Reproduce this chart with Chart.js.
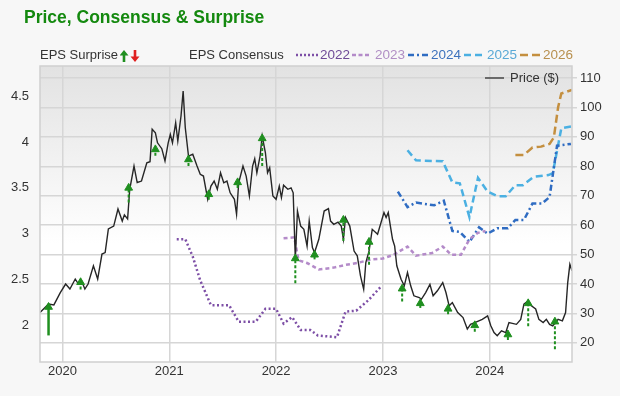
<!DOCTYPE html>
<html>
<head>
<meta charset="utf-8">
<script src="https://cdn.jsdelivr.net/npm/chart.js@4.4.1/dist/chart.umd.min.js"></script>
<style>
  body { margin: 0; background: #f7f7f7; font-family: "Liberation Sans", Arial, sans-serif; }
  #wrap { position: relative; width: 620px; height: 396px; }
  #chart { position: absolute; left: 0; top: 0; }
  #title { position: absolute; left: 24px; top: 7px; font-size: 17.5px; font-weight: bold; color: #14890f; }
  .lg { position: absolute; font-size: 13px; color: #333; white-space: nowrap; line-height: 16px; }
  .yr { font-size: 13.5px; }
</style>
</head>
<body>
<div id="wrap">
  <canvas id="chart" width="620" height="396"></canvas>
  <div id="title">Price, Consensus &amp; Surprise</div>

  <div class="lg" style="left:40px; top:47px;">EPS Surprise</div>
  <svg style="position:absolute; left:120px; top:49px;" width="22" height="14">
    <polygon points="4,1 8.5,6.5 5.3,6.5 5.3,13 2.7,13 2.7,6.5 -0.5,6.5" fill="#1f8f1f"/>
    <polygon points="15,13 19.5,7.5 16.3,7.5 16.3,1 13.7,1 13.7,7.5 10.5,7.5" fill="#e02020"/>
  </svg>

  <div class="lg" style="left:189px; top:47px;">EPS Consensus</div>
  <svg style="position:absolute; left:296px; top:52px;" width="24" height="6">
    <line x1="0" y1="3" x2="23" y2="3" stroke="#7d4fa6" stroke-width="2.5" stroke-dasharray="2,2"/>
  </svg>
  <div class="lg yr" style="left:320px; top:47px; color:#6f4b97;">2022</div>
  <svg style="position:absolute; left:352px; top:52px;" width="20" height="6">
    <line x1="0" y1="3" x2="18" y2="3" stroke="#b48bc9" stroke-width="2.5" stroke-dasharray="4,2.5"/>
  </svg>
  <div class="lg yr" style="left:375px; top:47px; color:#b08ec4;">2023</div>
  <svg style="position:absolute; left:408px; top:52px;" width="22" height="6">
    <line x1="0" y1="3" x2="20" y2="3" stroke="#2f6cc2" stroke-width="2.5" stroke-dasharray="6,3,2,3"/>
  </svg>
  <div class="lg yr" style="left:431px; top:47px; color:#3d72bd;">2024</div>
  <svg style="position:absolute; left:464px; top:52px;" width="22" height="6">
    <line x1="0" y1="3" x2="20" y2="3" stroke="#4bb0e2" stroke-width="2.5" stroke-dasharray="7,4"/>
  </svg>
  <div class="lg yr" style="left:487px; top:47px; color:#5aa9d6;">2025</div>
  <svg style="position:absolute; left:520px; top:52px;" width="22" height="6">
    <line x1="0" y1="3" x2="20" y2="3" stroke="#c48f3f" stroke-width="2.5" stroke-dasharray="8,4"/>
  </svg>
  <div class="lg yr" style="left:543px; top:47px; color:#b8904f;">2026</div>

  <svg style="position:absolute; left:485px; top:75px;" width="20" height="6">
    <line x1="0" y1="3" x2="19" y2="3" stroke="#444" stroke-width="1.5"/>
  </svg>
  <div class="lg" style="left:510px; top:70px;">Price ($)</div>
</div>

<script>
// price, decimal years
const priceDates = [2019.79, 2019.87, 2019.92, 2019.98, 2020.03, 2020.07, 2020.12, 2020.15, 2020.18, 2020.21,
  2020.24, 2020.29, 2020.33, 2020.37, 2020.40, 2020.43, 2020.48, 2020.52, 2020.56, 2020.58,
  2020.61, 2020.63, 2020.67, 2020.70, 2020.74, 2020.79, 2020.82, 2020.84, 2020.87, 2020.89,
  2020.93, 2020.96, 2020.99, 2021.01, 2021.03, 2021.06, 2021.08, 2021.11, 2021.13, 2021.15,
  2021.18, 2021.22, 2021.26, 2021.29, 2021.32, 2021.36, 2021.39, 2021.42, 2021.45, 2021.48,
  2021.51, 2021.54, 2021.57, 2021.61, 2021.63, 2021.65, 2021.69, 2021.72, 2021.75, 2021.78,
  2021.80, 2021.82, 2021.85, 2021.87, 2021.90, 2021.92, 2021.94, 2021.97, 2022.00, 2022.03,
  2022.05, 2022.07, 2022.11, 2022.14, 2022.16, 2022.18, 2022.20, 2022.23, 2022.26, 2022.29,
  2022.31, 2022.34, 2022.36, 2022.40, 2022.45, 2022.49, 2022.51, 2022.54, 2022.58, 2022.61,
  2022.63, 2022.65, 2022.69, 2022.73, 2022.76, 2022.79, 2022.82, 2022.84, 2022.87, 2022.90,
  2022.95, 2023.01, 2023.03, 2023.05, 2023.07, 2023.09, 2023.11, 2023.13, 2023.17, 2023.20,
  2023.23, 2023.26, 2023.29, 2023.34, 2023.36, 2023.40, 2023.44, 2023.47, 2023.51, 2023.56,
  2023.59, 2023.62, 2023.65, 2023.70, 2023.75, 2023.79, 2023.82, 2023.86, 2023.93, 2023.98,
  2024.01, 2024.04, 2024.07, 2024.11, 2024.15, 2024.18, 2024.25, 2024.29, 2024.32, 2024.36,
  2024.39, 2024.43, 2024.46, 2024.50, 2024.53, 2024.56, 2024.59, 2024.64, 2024.68, 2024.71,
  2024.73, 2024.75, 2024.77];
const priceValues = [30.3, 33.2, 32.9, 37.1, 40.0, 38.3, 41.7, 40.0, 41.0, 38.3,
  40.0, 46.2, 41.7, 50.2, 50.7, 58.7, 59.7, 65.5, 61.4, 63.5,
  62.1, 72.2, 80.1, 74.5, 75.0, 81.2, 81.6, 92.6, 91.4, 88.0,
  86.0, 81.8, 88.0, 90.9, 88.0, 94.8, 88.6, 97.1, 105.6, 93.1,
  83.5, 84.1, 80.1, 77.3, 76.7, 68.8, 73.3, 75.0, 72.2, 77.8,
  74.4, 75.0, 71.0, 68.8, 63.7, 74.4, 80.1, 76.7, 69.9, 80.1,
  82.6, 77.8, 83.5, 90.3, 84.6, 77.8, 79.5, 69.9, 68.8, 73.3,
  69.4, 73.6, 72.2, 72.7, 71.0, 48.5, 64.8, 59.7, 58.6, 52.9,
  61.4, 52.4, 50.7, 55.2, 64.8, 65.6, 61.4, 60.3, 61.0, 59.7,
  55.2, 62.6, 59.7, 51.2, 49.6, 42.8, 38.2, 47.3, 51.2, 58.6,
  56.9, 64.3, 62.6, 64.3, 59.7, 55.2, 52.9, 46.2, 41.6, 39.4,
  43.9, 39.4, 36.0, 35.4, 34.8, 37.1, 39.9, 36.0, 37.7, 40.5,
  37.1, 32.6, 33.7, 30.3, 28.6, 24.7, 26.3, 26.9, 28.0, 29.2,
  25.8, 23.5, 22.4, 24.1, 23.5, 26.9, 26.3, 28.0, 33.2, 34.3,
  32.6, 31.5, 28.0, 26.9, 28.0, 26.3, 25.8, 28.0, 27.5, 30.3,
  40.5, 46.7, 44.5];

// EPS surprise arrows (from consensus to actual)
const surpriseDates = [2019.87, 2020.17, 2020.62, 2020.87, 2021.18, 2021.37, 2021.64, 2021.87, 2022.18, 2022.36,
  2022.63, 2022.87, 2023.18, 2023.35, 2023.61, 2023.86, 2024.17, 2024.36, 2024.61];
const surpriseFrom = [1.89, 2.39, 3.34, 3.85, 3.74, 3.37, 3.50, 3.74, 2.46, 2.72,
  2.92, 2.66, 2.26, 2.19, 2.12, 1.93, 1.84, 1.99, 1.74];
const surpriseTo = [2.20, 2.47, 3.50, 3.92, 3.81, 3.43, 3.56, 4.04, 2.73, 2.77,
  3.15, 2.91, 2.40, 2.24, 2.18, 2.00, 1.90, 2.24, 2.04];

// EPS consensus per fiscal year
const cons2022Dates = [2021.07, 2021.15, 2021.22, 2021.29, 2021.39, 2021.56, 2021.65, 2021.81, 2021.90, 2022.00,
  2022.07, 2022.15, 2022.23, 2022.32, 2022.39, 2022.57, 2022.65, 2022.75, 2022.86, 2022.98];
const cons2022Values = [2.94, 2.94, 2.75, 2.49, 2.22, 2.22, 2.04, 2.04, 2.18, 2.18,
  2.02, 2.09, 1.95, 1.95, 1.89, 1.87, 2.15, 2.16, 2.27, 2.42];
const cons2023Dates = [2022.07, 2022.17, 2022.21, 2022.29, 2022.40, 2022.54, 2022.65, 2022.76, 2022.89, 2023.00,
  2023.10, 2023.23, 2023.31, 2023.46, 2023.56, 2023.64, 2023.73, 2023.81, 2023.89, 2023.96];
const cons2023Values = [2.95, 2.96, 2.71, 2.68, 2.61, 2.63, 2.66, 2.68, 2.72, 2.73,
  2.77, 2.86, 2.76, 2.79, 2.86, 2.77, 2.77, 2.94, 3.01, 3.03];
const cons2024Dates = [2023.14, 2023.23, 2023.31, 2023.48, 2023.57, 2023.65, 2023.72, 2023.81, 2023.90, 2023.98,
  2024.07, 2024.17, 2024.24, 2024.32, 2024.40, 2024.49, 2024.56, 2024.63, 2024.76];
const cons2024Values = [3.46, 3.29, 3.34, 3.31, 3.36, 3.03, 3.02, 2.91, 3.07, 3.00,
  3.06, 3.06, 3.15, 3.15, 3.33, 3.33, 3.40, 3.96, 3.98];
const cons2025Dates = [2023.23, 2023.31, 2023.56, 2023.65, 2023.72, 2023.81, 2023.89, 2023.98, 2024.07, 2024.15,
  2024.24, 2024.31, 2024.41, 2024.55, 2024.59, 2024.67, 2024.76];
const cons2025Values = [3.91, 3.80, 3.79, 3.56, 3.55, 3.18, 3.61, 3.46, 3.41, 3.41,
  3.53, 3.53, 3.62, 3.64, 3.66, 4.15, 4.17];
const cons2026Dates = [2024.24, 2024.32, 2024.40, 2024.48, 2024.56, 2024.60, 2024.64, 2024.67, 2024.77];
const cons2026Values = [3.86, 3.86, 3.94, 3.95, 3.98, 4.05, 4.38, 4.53, 4.57];

// axis ticks
const yearTicks = [2020, 2021, 2022, 2023, 2024];
const epsTicks = [2, 2.5, 3, 3.5, 4, 4.5];
const priceTicks = [20, 30, 40, 50, 60, 70, 80, 90, 100, 110];

const toPoints = (xs, ys) => xs.map((x, i) => ({ x: x, y: ys[i] }));
const tickFont = { family: "'Liberation Sans', Arial, sans-serif", size: 13 };
const gridColor = '#d6d6d6';

const arrowSets = surpriseDates.map((d, i) => ({
  data: [{ x: d, y: surpriseFrom[i] }, { x: d, y: surpriseTo[i] }],
  yAxisID: 'yEps',
  borderColor: '#1f8f1f',
  borderWidth: i === 0 ? 2.5 : 2,
  borderDash: i === 0 ? [] : [3, 2],
  pointRadius: [0, 4.5],
  pointStyle: 'triangle',
  pointBackgroundColor: '#1f8f1f',
  pointBorderColor: '#1f8f1f',
  pointBorderWidth: 1
}));

function consensus(xs, ys, color, dash, width) {
  return {
    data: toPoints(xs, ys),
    yAxisID: 'yEps',
    borderColor: color,
    borderWidth: width,
    borderDash: dash,
    pointRadius: 0
  };
}

// gray-to-white plot background and frame
const plotBg = {
  id: 'plotBg',
  beforeDraw(chart) {
    const { ctx, chartArea: a } = chart;
    const g = ctx.createLinearGradient(0, a.top, 0, a.bottom);
    g.addColorStop(0, '#e2e2e2');
    g.addColorStop(0.6, '#ffffff');
    g.addColorStop(1, '#ffffff');
    ctx.save();
    ctx.fillStyle = g;
    ctx.fillRect(a.left, a.top, a.right - a.left, a.bottom - a.top);
    ctx.restore();
  },
  afterDraw(chart) {
    const { ctx, chartArea: a } = chart;
    ctx.save();
    ctx.strokeStyle = '#cfcfcf';
    ctx.lineWidth = 1.5;
    ctx.strokeRect(a.left, a.top, a.right - a.left, a.bottom - a.top);
    ctx.restore();
  }
};

new Chart(document.getElementById('chart'), {
  type: 'line',
  data: {
    datasets: [
      ...arrowSets,
      {
        data: toPoints(priceDates, priceValues),
        yAxisID: 'yPrice',
        borderColor: '#262626',
        borderWidth: 1.4,
        pointRadius: 0
      },
      consensus(cons2022Dates, cons2022Values, '#7d4fa6', [2, 2.5], 2.5),
      consensus(cons2023Dates, cons2023Values, '#b48bc9', [4, 3], 2.5),
      consensus(cons2024Dates, cons2024Values, '#2f6cc2', [6, 3, 2, 3], 2.5),
      consensus(cons2025Dates, cons2025Values, '#4bb0e2', [7, 4], 2.5),
      consensus(cons2026Dates, cons2026Values, '#c48f3f', [8, 4], 2.5)
    ]
  },
  options: {
    responsive: false,
    animation: false,
    layout: { padding: { top: 66, left: 0, right: 0, bottom: 0 } },
    plugins: { legend: { display: false }, tooltip: { enabled: false } },
    scales: {
      x: {
        type: 'linear',
        min: 2019.79,
        max: 2024.77,
        afterBuildTicks: s => { s.ticks = yearTicks.map(v => ({ value: v })); },
        afterFit: s => { s.height = 34; },
        ticks: { callback: v => String(v), font: tickFont, color: '#333', padding: 2, maxRotation: 0 },
        grid: { color: gridColor, lineWidth: 1.5, drawTicks: false },
        border: { display: false }
      },
      yEps: {
        position: 'left',
        min: 1.6,
        max: 4.83,
        afterBuildTicks: s => { s.ticks = epsTicks.map(v => ({ value: v })); },
        afterFit: s => { s.width = 40; },
        ticks: { callback: v => String(v), font: tickFont, color: '#333', padding: 3 },
        grid: { display: false },
        border: { display: false }
      },
      yPrice: {
        position: 'right',
        min: 13.5,
        max: 114.1,
        afterBuildTicks: s => { s.ticks = priceTicks.map(v => ({ value: v })); },
        afterFit: s => { s.width = 48; },
        ticks: { callback: v => String(v), font: tickFont, color: '#333', padding: 3 },
        grid: { color: gridColor, lineWidth: 1.5, tickLength: 5 },
        border: { display: false }
      }
    }
  },
  plugins: [plotBg]
});
</script>
</body>
</html>
